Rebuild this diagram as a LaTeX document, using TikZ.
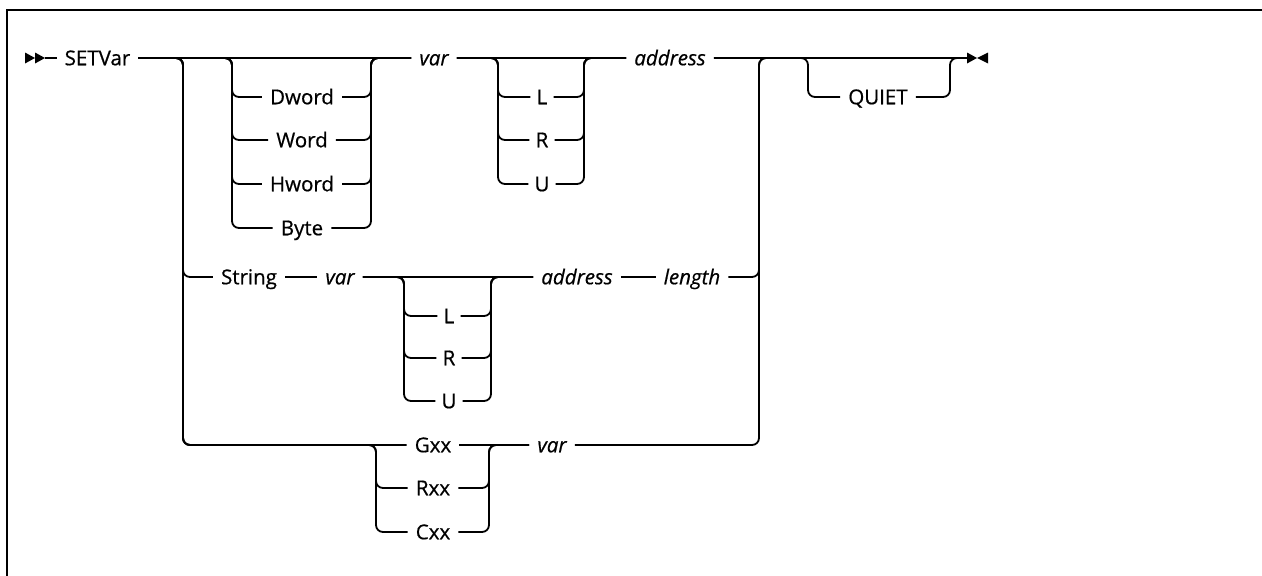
\documentclass[tikz,border=0pt]{standalone}
\usepackage{fontspec}
\setmainfont{Open Sans}[FakeBold=0.6]
\begin{document}
\begin{tikzpicture}[x=1pt,y=-1pt,
  ln/.style={line width=1.8pt, rounded corners=7pt, line join=round},
  frame/.style={line width=2.6pt, line join=miter},
  tok/.style={font=\fontsize{20.5}{24}\selectfont, inner xsep=8pt, inner ysep=0pt, text height=14.5pt, text depth=0pt, anchor=center},
  var/.style={tok, font=\fontsize{20.5}{24}\selectfont\itshape},
  tip/.style={fill=black}]
\useasboundingbox (0,0) rectangle (1262,576);
\fill[white] (0,0) rectangle (1262,576);
\draw[frame] (7,576) -- (7,10) -- (1262,10);

% coordinates
\coordinate (st) at (45,58);
\coordinate (v0) at (183,58);
\coordinate (d1) at (232,58);
\coordinate (d2) at (371,58);
\coordinate (l1) at (498,58);
\coordinate (l2) at (584,58);
\coordinate (v5) at (759,58);
\coordinate (q1) at (808,58);
\coordinate (q2) at (950,58);
\coordinate (endc) at (967,58);
\coordinate (sl1) at (404,277);
\coordinate (sl2) at (491,277);
\coordinate (g1) at (376,445);
\coordinate (g2) at (489,445);

% start and end marks
\fill[tip] (25,52.5) -- (35,58) -- (25,63.5) -- cycle;
\fill[tip] (35,52.5) -- (45,58) -- (35,63.5) -- cycle;
\fill[tip] (967,52.5) -- (977,58) -- (967,63.5) -- cycle;
\fill[tip] (988,52.5) -- (977,58) -- (988,63.5) -- cycle;

% nodes
\node[tok] (setvar) at (97.5,58) {SETVar};
\node[tok] (dword) at (302,97) {Dword};
\node[tok] (word) at (302,140) {Word};
\node[tok] (hword) at (302,184) {Hword};
\node[tok] (byte) at (302,228) {Byte};
\node[var] (var1) at (434,58) {var};
\node[tok, inner xsep=6pt] (la) at (542,97) {L};
\node[tok, inner xsep=6pt] (ra) at (542,140) {R};
\node[tok, inner xsep=6pt] (ua) at (542,184) {U};
\node[var] (addr1) at (670,58) {address};
\node[tok] (quiet) at (878,97) {QUIET};
\node[tok] (string) at (249,277) {String};
\node[var] (var2) at (340,277) {var};
\node[tok, inner xsep=6pt] (lb) at (449,316) {L};
\node[tok, inner xsep=6pt] (rb) at (449,358) {R};
\node[tok, inner xsep=6pt] (ub) at (449,401) {U};
\node[var] (addr2) at (577,277) {address};
\node[var] (len) at (692,277) {length};
\node[tok] (gxx) at (433,445) {Gxx};
\node[tok] (rxx) at (433,488) {Rxx};
\node[tok] (cxx) at (433,532) {Cxx};
\node[var] (var3) at (552,445) {var};

% main line
\draw[ln] (st) -- (setvar.west);
\draw[ln] (setvar.east) -- (var1.west);
\foreach \n in {dword,word,hword,byte}{
  \draw[ln] (setvar.east) -- (d1) |- (\n.west);
  \draw[ln] (\n.east) -| (d2) -- (var1.west);
}
\draw[ln] (var1.east) -- (addr1.west);
\foreach \n in {la,ra,ua}{
  \draw[ln] (var1.east) -- (l1) |- (\n.west);
  \draw[ln] (\n.east) -| (l2) -- (addr1.west);
}
\draw[ln] (addr1.east) -- (endc);
\draw[ln] (addr1.east) -- (q1) |- (quiet.west);
\draw[ln] (quiet.east) -| (q2) -- (endc);

% String row
\draw[ln] (setvar.east) -- (v0) |- (string.west);
\draw[ln] (string.east) -- (var2.west);
\draw[ln] (var2.east) -- (addr2.west);
\foreach \n in {lb,rb,ub}{
  \draw[ln] (var2.east) -- (sl1) |- (\n.west);
  \draw[ln] (\n.east) -| (sl2) -- (addr2.west);
}
\draw[ln] (addr2.east) -- (len.west);
\draw[ln] (len.east) -| (v5) -- (endc);

% G row
\draw[ln] (setvar.east) -- (v0) |- (gxx.west);
\draw[ln] (gxx.east) -- (var3.west);
\foreach \n in {rxx,cxx}{
  \draw[ln] (setvar.east) -- (v0) |- (g1) |- (\n.west);
  \draw[ln] (\n.east) -| (g2) -- (var3.west);
}
\draw[ln] (var3.east) -| (v5) -- (endc);
\end{tikzpicture}
\end{document}
